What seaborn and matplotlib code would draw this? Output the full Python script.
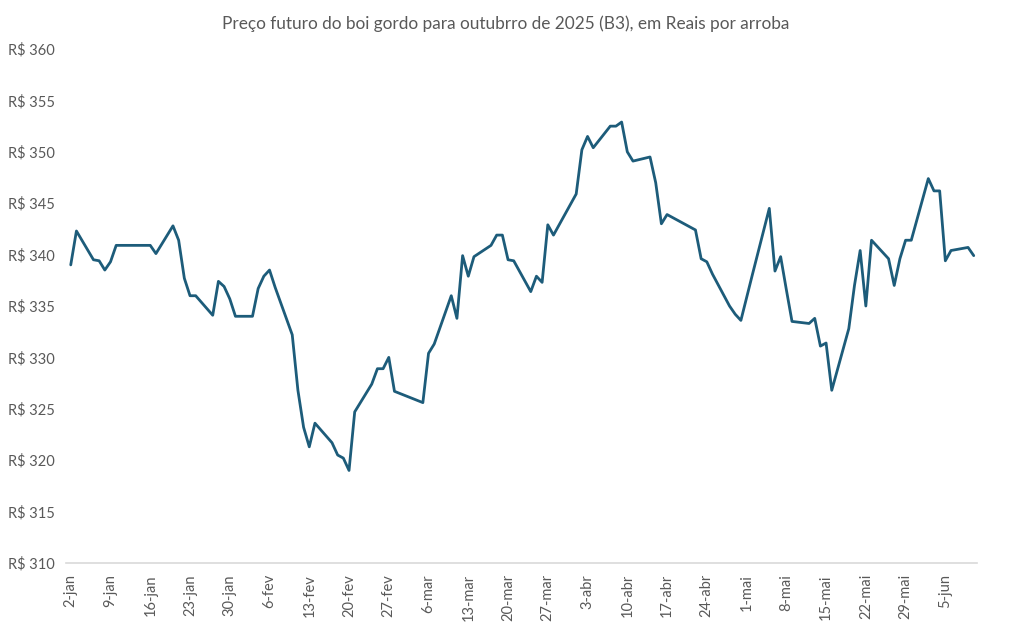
import matplotlib
matplotlib.use("Agg")
import matplotlib.pyplot as plt
import seaborn as sns
import pandas as pd

# pregos diarios (B3), reais por arroba
datas = [
    "2025-01-02", "2025-01-03", "2025-01-06", "2025-01-07", "2025-01-08", "2025-01-09", "2025-01-10",
    "2025-01-13", "2025-01-14", "2025-01-15", "2025-01-16", "2025-01-17",
    "2025-01-20", "2025-01-21", "2025-01-22", "2025-01-23", "2025-01-24",
    "2025-01-27", "2025-01-28", "2025-01-29", "2025-01-30", "2025-01-31",
    "2025-02-03", "2025-02-04", "2025-02-05", "2025-02-06", "2025-02-07",
    "2025-02-10", "2025-02-11", "2025-02-12", "2025-02-13", "2025-02-14",
    "2025-02-17", "2025-02-18", "2025-02-19", "2025-02-20", "2025-02-21",
    "2025-02-24", "2025-02-25", "2025-02-26", "2025-02-27", "2025-02-28",
    "2025-03-05", "2025-03-06", "2025-03-07",
    "2025-03-10", "2025-03-11", "2025-03-12", "2025-03-13", "2025-03-14",
    "2025-03-17", "2025-03-18", "2025-03-19", "2025-03-20", "2025-03-21",
    "2025-03-24", "2025-03-25", "2025-03-26", "2025-03-27", "2025-03-28",
    "2025-03-31", "2025-04-01", "2025-04-02", "2025-04-03", "2025-04-04",
    "2025-04-07", "2025-04-08", "2025-04-09", "2025-04-10", "2025-04-11",
    "2025-04-14", "2025-04-15", "2025-04-16", "2025-04-17",
    "2025-04-22", "2025-04-23", "2025-04-24", "2025-04-25",
    "2025-04-28", "2025-04-29", "2025-04-30", "2025-05-02",
    "2025-05-05", "2025-05-06", "2025-05-07", "2025-05-08", "2025-05-09",
    "2025-05-12", "2025-05-13", "2025-05-14", "2025-05-15", "2025-05-16",
    "2025-05-19", "2025-05-20", "2025-05-21", "2025-05-22", "2025-05-23",
    "2025-05-26", "2025-05-27", "2025-05-28", "2025-05-29", "2025-05-30",
    "2025-06-02", "2025-06-03", "2025-06-04", "2025-06-05", "2025-06-06",
    "2025-06-09", "2025-06-10",
]
precos = [
    339.0, 342.3, 339.5, 339.4, 338.5, 339.3, 340.9,
    340.9, 340.9, 340.9, 340.9, 340.1,
    342.8, 341.4, 337.7, 336.0, 336.0,
    334.1, 337.4, 336.9, 335.7, 334.0,
    334.0, 336.7, 337.9, 338.5, 336.8,
    332.2, 326.8, 323.2, 321.3, 323.6,
    321.7, 320.5, 320.2, 319.0, 324.7,
    327.4, 328.9, 328.9, 330.0, 326.7,
    325.6, 330.4, 331.3,
    336.0, 333.8, 339.9, 337.9, 339.8,
    340.9, 341.9, 341.9, 339.5, 339.4,
    336.4, 337.9, 337.3, 342.9, 341.9,
    344.9, 345.9, 350.2, 351.5, 350.4,
    352.5, 352.5, 352.9, 350.0, 349.1,
    349.5, 347.0, 343.0, 343.9,
    342.4, 339.6, 339.3, 338.1,
    335.0, 334.2, 333.6, 338.0,
    344.5, 338.4, 339.8, 336.6, 333.5,
    333.3, 333.8, 331.1, 331.4, 326.8,
    332.8, 337.0, 340.4, 335.0, 341.4,
    339.6, 337.0, 339.6, 341.4, 341.4,
    347.4, 346.2, 346.2, 339.4, 340.4,
    340.7, 339.9,
]
meses = ["jan", "fev", "mar", "abr", "mai", "jun"]
y_ticks = [310, 315, 320, 325, 330, 335, 340, 345, 350, 355, 360]

df = pd.DataFrame({"data": pd.to_datetime(datas), "preco": precos})

sns.set_style("white")
plt.rcParams["font.family"] = ["Lato", "DejaVu Sans"]
cinza = "#595959"

fig = plt.figure(figsize=(10.12, 6.29), dpi=100)
ax = fig.add_axes([0.065, 0.105, 0.9, 0.817])

sns.lineplot(data=df, x="data", y="preco", ax=ax, color="#1d5c7a", linewidth=2.0)

semanas = pd.date_range("2025-01-02", "2025-06-05", freq="7D")
ax.set_xticks(semanas)
ax.set_xticklabels([f"{d.day}-{meses[d.month - 1]}" for d in semanas],
                   rotation=90, fontsize=10.5, color=cinza)
ax.set_xlim(pd.Timestamp("2025-01-01 03:00"), pd.Timestamp("2025-06-10 12:00"))

ax.set_ylim(310, 360)
ax.set_yticks(y_ticks)
ax.set_yticklabels([f"R$ {v}" for v in y_ticks], fontsize=10.5, color=cinza)
ax.tick_params(axis="both", length=0, pad=8)

ax.set_xlabel("")
ax.set_ylabel("")
for lado in ["top", "right", "left"]:
    ax.spines[lado].set_visible(False)
ax.spines["bottom"].set_color("#d9d9d9")
ax.spines["bottom"].set_linewidth(1.2)

fig.suptitle("Preço futuro do boi gordo para outubrro de 2025 (B3), em Reais por arroba",
             y=0.975, fontsize=12.4, color=cinza)

fig.savefig("out.png", dpi=100)
